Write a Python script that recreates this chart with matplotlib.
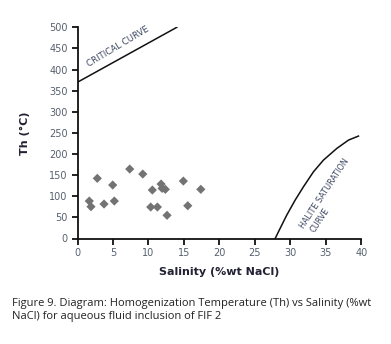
import matplotlib
matplotlib.use("Agg")
import matplotlib.pyplot as plt

# Data
salinity = [1.66, 1.9, 2.79, 3.74, 4.96, 5.19, 7.36, 9.2, 10.55, 10.32,
            11.26, 11.78, 11.92, 12.38, 12.62, 14.92, 15.54, 17.38]
th = [88.7, 75.3, 142.4, 81.6, 126.6, 88.7, 164.4, 152.6, 114.7, 74.5,
      74.5, 128.9, 118.7, 116.4, 54.9, 136.0, 77.6, 116.4]

critical_x = [0, 14.0]
critical_y = [370, 500]

halite_x = [27.86, 28.56, 29.5, 30.68, 31.85, 33.26, 34.67, 36.56, 38.2, 39.6]
halite_y = [0, 24, 55.6, 91, 122.5, 158, 185.7, 213.4, 233, 242.5]

xticks = [0, 5, 10, 15, 20, 25, 30, 35, 40]
yticks = [0, 50, 100, 150, 200, 250, 300, 350, 400, 450, 500]

W, H = 391, 344
fig = plt.figure(figsize=(W / 100, H / 100), dpi=100)
left, right, bottom, top = 77.5, 361.3, 238.5, 27.3
ax = fig.add_axes([left / W, 1 - bottom / H, (right - left) / W, (bottom - top) / H])

ax.scatter(salinity, th, marker="D", s=22, color="#737373", edgecolors="none", zorder=3)
ax.plot(critical_x, critical_y, color="#111111", lw=1.1)
ax.plot(halite_x, halite_y, color="#111111", lw=1.1, solid_joinstyle="round")

lab_col = "#3b4660"
ax.text(5.7, 454, "CRITICAL CURVE", rotation=31, fontsize=6.2, color=lab_col,
        ha="center", va="center", family="DejaVu Sans", rotation_mode="anchor")
ax.text(34.8, 107, "HALITE SATURATION", rotation=56.5, fontsize=5.9, color=lab_col,
        ha="center", va="center", family="DejaVu Sans", rotation_mode="anchor")
ax.text(34.2, 44, "CURVE", rotation=56.5, fontsize=5.9, color=lab_col,
        ha="center", va="center", family="DejaVu Sans", rotation_mode="anchor")

ax.set_xlim(0, 40)
ax.set_ylim(0, 500)
ax.set_xticks(xticks)
ax.set_yticks(yticks)
for s in ["top", "right"]:
    ax.spines[s].set_visible(False)
for s in ["left", "bottom"]:
    ax.spines[s].set_linewidth(1.3)
    ax.spines[s].set_color("#111111")
ax.tick_params(direction="out", length=4, width=1.3, colors="#111111",
               labelsize=7, labelcolor="#55606e", pad=3)

ax.set_xlabel("Salinity (%wt NaCl)", fontsize=8, fontweight="bold", color="#222233", labelpad=6)
ax.set_ylabel("Th (°C)", fontsize=8, fontweight="bold", color="#222233", labelpad=14)

fig.text(12.5 / W, 1 - 303.3 / H, "Figure 9. Diagram: Homogenization Temperature (Th) vs Salinity (%wt",
         fontsize=8.0, family="Open Sans", color="#222222", va="center", ha="left")
fig.text(12.5 / W, 1 - 316 / H, "NaCl) for aqueous fluid inclusion of FIF 2",
         fontsize=8.0, family="Open Sans", color="#222222", va="center", ha="left")

fig.savefig("out.png", dpi=100)
